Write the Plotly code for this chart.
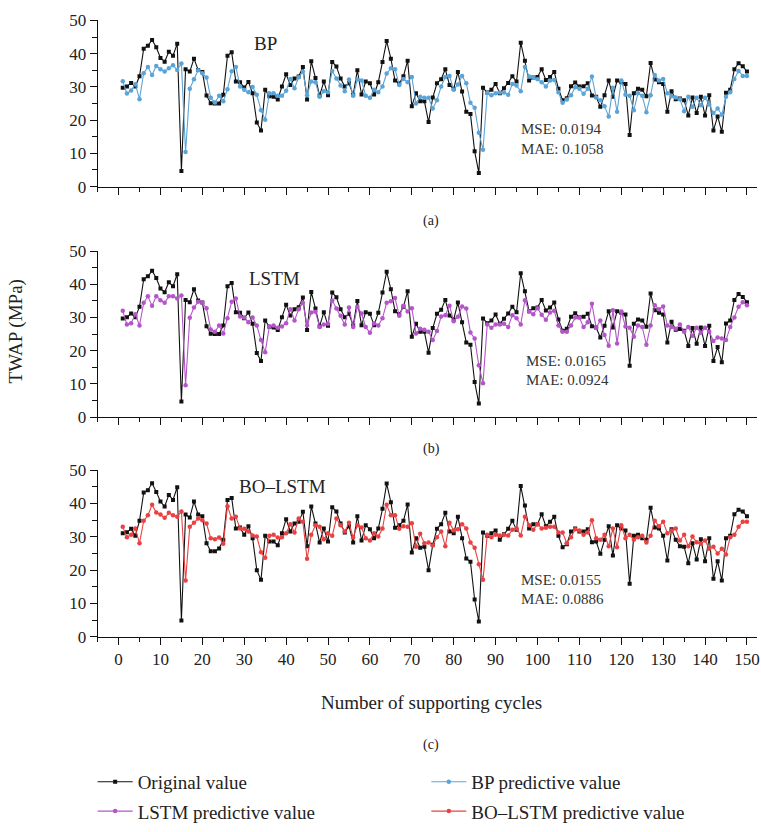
import plotly.graph_objects as go
from plotly.subplots import make_subplots

cycles = list(range(1, 151))

# Original value (panels a and b)
original_ab = [29.7, 30.1, 31.2, 30.1, 33.2, 41.5, 42.4, 44.1, 41.9, 38.7,
               37.6, 40.6, 39.4, 43.0, 4.7, 35.3, 34.6, 38.5, 35.1, 34.5,
               27.4, 25.1, 25.0, 25.0, 27.6, 39.4, 40.4, 31.6, 31.4, 29.8,
               31.5, 28.1, 19.3, 16.9, 29.1, 27.2, 27.0, 26.2, 30.1, 33.8,
               30.6, 32.5, 33.1, 36.0, 26.2, 37.7, 32.7, 27.4, 31.6, 27.5,
               37.5, 36.1, 32.5, 30.1, 31.1, 27.6, 35.0, 27.7, 31.6, 31.1,
               27.7, 31.4, 37.5, 43.8, 38.5, 31.9, 31.0, 33.2, 37.9, 24.2,
               28.1, 25.7, 25.7, 19.4, 26.8, 31.1, 32.3, 35.3, 30.6, 29.4,
               34.5, 28.6, 22.5, 21.8, 10.6, 4.1, 29.7, 28.3, 29.1, 30.9,
               28.1, 29.6, 31.2, 33.2, 31.6, 43.3, 37.9, 31.9, 32.8, 33.0,
               35.3, 32.1, 33.0, 34.5, 29.4, 26.0, 26.6, 30.2, 31.3, 30.1,
               30.2, 31.1, 27.4, 27.0, 24.0, 27.5, 31.9, 27.0, 31.9, 31.4,
               30.9, 15.5, 28.1, 29.4, 29.1, 27.2, 37.2, 32.2, 31.4, 30.9,
               22.5, 28.7, 26.3, 26.5, 26.0, 21.4, 26.8, 22.1, 27.0, 21.4,
               27.5, 16.9, 21.1, 16.5, 28.2, 29.1, 35.3, 37.1, 36.2, 34.6]

# Original value as drawn in panel c
original_c = [31.1, 31.4, 32.4, 30.3, 34.8, 43.3, 44.0, 46.1, 43.5, 40.6,
              39.1, 42.6, 41.1, 44.9, 4.9, 36.7, 35.8, 40.6, 36.7, 36.2,
              28.1, 25.7, 25.7, 26.5, 29.1, 41.1, 41.7, 32.5, 32.8, 30.6,
              33.2, 29.6, 20.0, 17.1, 30.3, 28.6, 28.6, 27.5, 31.1, 35.3,
              31.6, 34.0, 34.5, 37.5, 27.2, 39.1, 34.0, 28.3, 32.5, 28.6,
              38.9, 37.6, 34.0, 31.3, 33.2, 28.3, 36.2, 28.9, 33.5, 32.3,
              29.6, 32.5, 38.4, 46.0, 40.4, 32.7, 33.5, 34.8, 39.7, 25.3,
              29.6, 26.7, 27.0, 20.0, 27.6, 32.4, 33.8, 37.2, 31.6, 31.1,
              36.0, 29.6, 23.5, 22.5, 11.2, 4.6, 31.3, 30.3, 31.1, 31.9,
              29.1, 30.8, 32.4, 34.8, 32.1, 45.3, 39.4, 32.5, 33.8, 33.8,
              36.8, 33.2, 34.5, 36.0, 30.3, 26.9, 27.8, 31.6, 32.5, 31.6,
              31.6, 32.3, 28.4, 28.6, 24.9, 29.1, 33.2, 24.4, 33.5, 32.5,
              31.9, 15.9, 30.3, 30.6, 29.6, 29.1, 38.7, 32.8, 32.5, 30.3,
              22.9, 32.3, 29.1, 27.2, 27.0, 22.1, 28.1, 23.2, 29.3, 22.7,
              29.6, 17.4, 22.7, 16.9, 29.6, 30.3, 36.8, 38.1, 37.6, 36.2]

bp_pred = [31.7, 28.0, 28.9, 30.8, 26.3, 34.1, 36.0, 33.6, 36.3, 35.3,
           34.6, 35.6, 36.5, 35.1, 37.0, 10.4, 29.4, 32.3, 35.0, 34.1,
           32.8, 26.7, 25.3, 27.3, 25.7, 29.3, 34.7, 36.0, 30.1, 29.1,
           28.4, 30.0, 27.6, 23.0, 20.1, 28.1, 28.1, 27.3, 27.3, 28.8,
           32.4, 29.6, 32.9, 34.6, 27.5, 31.6, 31.4, 27.0, 28.7, 28.4,
           34.8, 32.5, 30.4, 28.7, 32.2, 27.3, 32.2, 31.9, 27.3, 26.7,
           29.1, 28.4, 30.1, 34.0, 35.6, 35.3, 30.6, 32.4, 31.4, 33.0,
           25.0, 27.0, 26.7, 26.7, 23.5, 26.0, 30.1, 33.0, 33.3, 29.1,
           30.7, 33.3, 31.1, 25.2, 23.7, 16.2, 11.1, 28.2, 27.5, 28.1,
           28.3, 28.3, 27.6, 30.9, 30.4, 28.7, 36.0, 33.1, 32.8, 32.3,
           31.4, 30.1, 31.9, 32.1, 28.4, 25.2, 26.2, 27.5, 29.9, 29.4,
           27.9, 29.4, 33.1, 26.8, 26.0, 24.2, 21.1, 29.7, 22.5, 31.9,
           27.6, 27.3, 23.0, 28.1, 27.3, 22.4, 27.5, 33.6, 31.9, 32.4,
           28.1, 27.2, 26.8, 26.3, 22.7, 27.0, 24.0, 26.7, 24.5, 26.7,
           24.7, 22.1, 23.5, 21.6, 27.0, 28.4, 32.4, 34.8, 33.3, 33.3]

lstm_pred = [32.0, 27.9, 28.3, 31.0, 27.6, 34.4, 36.4, 33.5, 36.4, 35.2,
             34.4, 36.4, 36.4, 35.7, 36.6, 9.6, 29.9, 33.0, 34.7, 34.4,
             32.8, 26.4, 25.7, 27.6, 25.2, 29.8, 34.7, 35.7, 30.3, 30.0,
             28.6, 30.0, 27.6, 23.2, 19.5, 27.3, 27.6, 26.9, 27.3, 28.3,
             32.5, 29.1, 32.5, 34.4, 27.6, 31.5, 31.7, 27.1, 27.9, 28.1,
             35.1, 32.7, 30.5, 27.9, 33.0, 27.1, 33.2, 31.2, 27.1, 25.4,
             28.3, 27.6, 29.8, 34.4, 34.9, 35.9, 30.5, 33.5, 31.8, 32.8,
             25.2, 26.6, 26.3, 25.7, 23.2, 25.9, 30.3, 30.7, 33.5, 28.9,
             30.2, 33.3, 32.7, 25.5, 23.7, 15.6, 10.2, 27.9, 26.9, 27.9,
             27.9, 28.1, 27.1, 30.7, 29.8, 27.9, 35.2, 31.8, 31.0, 32.8,
             30.8, 29.3, 31.5, 32.0, 27.6, 25.7, 25.7, 27.6, 30.0, 30.0,
             27.1, 28.6, 34.1, 26.9, 29.1, 24.7, 21.5, 32.2, 22.2, 31.8,
             27.3, 26.9, 24.2, 27.6, 27.1, 21.8, 27.6, 33.7, 32.5, 33.3,
             27.6, 27.1, 26.6, 27.9, 25.7, 27.1, 24.5, 26.9, 25.4, 26.9,
             25.7, 22.9, 24.0, 23.7, 23.2, 27.1, 30.0, 33.2, 34.6, 33.7]

bolstm_pred = [33.0, 29.9, 30.6, 32.5, 28.1, 34.8, 36.5, 39.6, 37.3, 36.7,
               35.7, 37.2, 36.5, 36.0, 37.6, 16.9, 33.0, 34.2, 35.5, 35.0,
               34.0, 29.6, 29.3, 29.8, 27.9, 39.2, 35.5, 36.0, 32.5, 32.4,
               31.6, 30.4, 30.1, 25.4, 23.7, 30.3, 30.6, 29.8, 29.9, 31.1,
               33.8, 31.3, 35.5, 34.5, 23.4, 30.6, 33.5, 33.0, 29.3, 31.1,
               30.3, 35.5, 33.5, 31.6, 34.2, 29.8, 33.5, 32.8, 29.6, 28.9,
               31.1, 30.1, 32.5, 39.6, 36.5, 36.5, 32.4, 33.2, 33.0, 34.1,
               27.0, 30.9, 28.1, 28.3, 27.4, 29.9, 31.6, 27.2, 34.2, 31.9,
               32.3, 33.8, 32.5, 28.3, 26.7, 21.8, 17.1, 30.6, 29.9, 30.6,
               30.4, 30.6, 30.4, 32.1, 32.5, 30.4, 36.0, 33.5, 32.1, 33.8,
               32.5, 32.7, 33.0, 33.0, 31.3, 31.3, 28.1, 29.9, 32.3, 31.9,
               30.6, 31.3, 35.0, 29.6, 29.1, 30.6, 27.2, 32.5, 26.9, 33.5,
               29.6, 30.6, 29.1, 29.9, 30.3, 28.3, 30.3, 34.8, 33.2, 34.5,
               31.1, 31.9, 32.5, 28.9, 30.6, 27.2, 30.1, 28.4, 27.9, 28.9,
               26.4, 27.0, 25.0, 26.4, 24.7, 29.9, 30.6, 33.0, 34.5, 34.5]

panel_names = ["BP", "LSTM", "BO–LSTM"]
panel_tags = ["(a)", "(b)", "(c)"]
mse_vals = ["MSE: 0.0194", "MSE: 0.0165", "MSE: 0.0155"]
mae_vals = ["MAE: 0.1058", "MAE: 0.0924", "MAE: 0.0886"]
y_ticks = [0, 10, 20, 30, 40, 50]
x_ticks = list(range(0, 151, 10))

C_ORIG = "#111111"
C_BP = "#5BA4D8"
C_LSTM = "#B456C8"
C_BO = "#EA4242"
FONT = "Liberation Serif"

W, H = 761, 832
fig = make_subplots(rows=3, cols=1)

preds = [(bp_pred, C_BP, "BP predictive value", "legend2"),
         (lstm_pred, C_LSTM, "LSTM predictive value", "legend3"),
         (bolstm_pred, C_BO, "BO–LSTM predictive value", "legend4")]
origs = [original_ab, original_ab, original_c]

for i in range(3):
    r = i + 1
    fig.add_trace(go.Scatter(
        x=cycles, y=origs[i], mode="lines+markers", name="Original value",
        line=dict(color=C_ORIG, width=1.1),
        marker=dict(symbol="square", size=4, color=C_ORIG),
        showlegend=(i == 0), legend="legend"), row=r, col=1)
    vals, col, nm, lg = preds[i]
    fig.add_trace(go.Scatter(
        x=cycles, y=vals, mode="lines+markers", name=nm,
        line=dict(color=col, width=1.1),
        marker=dict(symbol="circle", size=4.5, color=col),
        showlegend=True, legend=lg), row=r, col=1)

# pixel-based domains (no margins)
ydoms_px = [(11.7, 181.7), (247.7, 417.7), (472.0, 642.5)]
x0, x1 = 98 / W, 760 / W

for i in range(3):
    top, bot = ydoms_px[i]
    yname = "yaxis" if i == 0 else f"yaxis{i+1}"
    xname = "xaxis" if i == 0 else f"xaxis{i+1}"
    fig.update_layout(**{
        yname: dict(domain=[1 - bot / H, 1 - top / H], range=[0, 50],
                    tickvals=y_ticks, ticks="outside", ticklen=7, tickwidth=1,
                    tickcolor="#111", showline=True, linecolor="#111",
                    linewidth=1, showgrid=False, zeroline=False,
                    minor=dict(dtick=5, ticks="outside", ticklen=5,
                               tickcolor="#111", showgrid=False),
                    tickfont=dict(family=FONT, size=17, color="#222")),
        xname: dict(domain=[x0, x1], range=[-5, 152.4], tickvals=x_ticks,
                    ticks="outside", ticklen=7, tickwidth=1, tickcolor="#111",
                    showline=True, linecolor="#111", linewidth=1,
                    showgrid=False, zeroline=False,
                    showticklabels=(i == 2), ticklabeloverflow="allow",
                    minor=dict(dtick=5, ticks="outside", ticklen=4,
                               tickcolor="#111", showgrid=False),
                    tickfont=dict(family=FONT, size=17, color="#222")),
    })

annots = []
name_pos = [(35.1, 43.1), (37.2, 41.6), (39.2, 45.1)]
mse_pos = [(95.7, 17.2, 11.3), (96.8, 16.9, 11.3), (95.7, 17.1, 11.5)]
tag_y = [217, 450, 753]
for i in range(3):
    xr = "x" if i == 0 else f"x{i+1}"
    yr = "y" if i == 0 else f"y{i+1}"
    annots.append(dict(x=name_pos[i][0], y=name_pos[i][1], xref=xr, yref=yr,
                       text=panel_names[i], showarrow=False,
                       xanchor="center", yanchor="middle",
                       font=dict(family=FONT, size=19, color="#222")))
    mx, my1, my2 = mse_pos[i]
    annots.append(dict(x=mx, y=my1, xref=xr, yref=yr, text=mse_vals[i],
                       xanchor="left", yanchor="middle", showarrow=False,
                       font=dict(family=FONT, size=15, color="#333")))
    annots.append(dict(x=mx, y=my2, xref=xr, yref=yr, text=mae_vals[i],
                       xanchor="left", yanchor="middle", showarrow=False,
                       font=dict(family=FONT, size=15, color="#333")))
    annots.append(dict(x=433 / W, y=1 - tag_y[i] / H, xref="paper",
                       yref="paper", text=panel_tags[i], showarrow=False,
                       xanchor="center", yanchor="middle",
                       font=dict(family=FONT, size=14, color="#222")))

annots.append(dict(x=433 / W, y=1 - 710 / H, xref="paper", yref="paper",
                   text="Number of supporting cycles", showarrow=False,
                   xanchor="center", yanchor="middle",
                   font=dict(family=FONT, size=19, color="#222")))
annots.append(dict(x=17 / W, y=1 - 330 / H, xref="paper", yref="paper",
                   text="TWAP (MPa)", textangle=-90, showarrow=False,
                   xanchor="center", yanchor="middle",
                   font=dict(family=FONT, size=19, color="#222")))

legend_common = dict(orientation="h", xanchor="left", yanchor="middle",
                     font=dict(family=FONT, size=19, color="#222"),
                     bgcolor="rgba(0,0,0,0)", itemwidth=35)

fig.update_layout(
    width=W, height=H, margin=dict(l=0, r=0, t=0, b=0),
    paper_bgcolor="white", plot_bgcolor="white",
    annotations=annots,
    legend=dict(x=93 / W, y=1 - 791 / H, **legend_common),
    legend2=dict(x=428 / W, y=1 - 791 / H, **legend_common),
    legend3=dict(x=93 / W, y=1 - 821 / H, **legend_common),
    legend4=dict(x=428 / W, y=1 - 821 / H, **legend_common),
)

fig.write_html("out.html")
